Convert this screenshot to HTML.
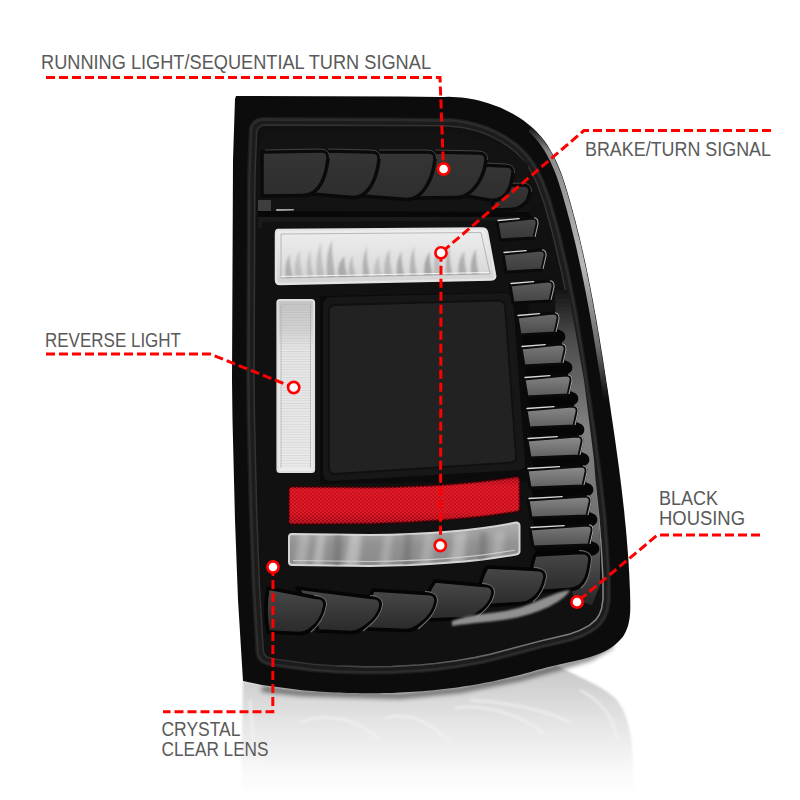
<!DOCTYPE html>
<html><head><meta charset="utf-8">
<style>
html,body{margin:0;padding:0;background:#fff;width:800px;height:800px;overflow:hidden}
svg{display:block}
text{font-family:"Liberation Sans",sans-serif;fill:#5a5a5a}
</style></head><body>
<svg width="800" height="800" viewBox="0 0 800 800">
<defs>
  <linearGradient id="refl" x1="0" y1="0" x2="0" y2="1">
    <stop offset="0" stop-color="#c6c6c6"/>
    <stop offset="0.4" stop-color="#e2e2e2"/>
    <stop offset="0.8" stop-color="#f8f8f8"/>
    <stop offset="1" stop-color="#ffffff"/>
  </linearGradient>
  <linearGradient id="rimg" gradientUnits="userSpaceOnUse" x1="0" y1="130" x2="0" y2="400">
    <stop offset="0" stop-color="#222"/>
    <stop offset="0.08" stop-color="#8a8a8a"/>
    <stop offset="0.5" stop-color="#b8b8b8"/>
    <stop offset="0.8" stop-color="#6a6a6a"/>
    <stop offset="1" stop-color="#0c0c0c"/>
  </linearGradient>
  <linearGradient id="wallg" gradientUnits="userSpaceOnUse" x1="0" y1="290" x2="0" y2="600">
    <stop offset="0" stop-color="#151515"/>
    <stop offset="0.15" stop-color="#4a4a4a"/>
    <stop offset="0.45" stop-color="#828282"/>
    <stop offset="0.75" stop-color="#707070"/>
    <stop offset="1" stop-color="#2a2a2a"/>
  </linearGradient>
  <linearGradient id="clear1" x1="0" y1="0" x2="0" y2="1">
    <stop offset="0" stop-color="#eeeeee"/>
    <stop offset="0.5" stop-color="#e2e2e2"/>
    <stop offset="1" stop-color="#d2d2d2"/>
  </linearGradient>
  <linearGradient id="streak" x1="0" y1="0" x2="0" y2="1">
    <stop offset="0" stop-color="#777" stop-opacity="0"/>
    <stop offset="0.6" stop-color="#6a6a6a" stop-opacity="0.55"/>
    <stop offset="1" stop-color="#888" stop-opacity="0.2"/>
  </linearGradient>
  <linearGradient id="redg" x1="0" y1="0" x2="0" y2="1">
    <stop offset="0" stop-color="#8a0610"/>
    <stop offset="0.2" stop-color="#d8101c"/>
    <stop offset="0.75" stop-color="#d00e1a"/>
    <stop offset="1" stop-color="#8a0610"/>
  </linearGradient>
  <pattern id="hex" width="4" height="3.4" patternUnits="userSpaceOnUse">
    <rect width="4" height="3.4" fill="#7a0010" opacity="0.22"/>
    <circle cx="1" cy="0.85" r="1.1" fill="#ff2a38" opacity="0.6"/>
    <circle cx="3" cy="2.55" r="1.1" fill="#ff2a38" opacity="0.6"/>
  </pattern>
  <linearGradient id="clear2" x1="0" y1="0" x2="0" y2="1">
    <stop offset="0" stop-color="#b0b0b0"/>
    <stop offset="0.5" stop-color="#929292"/>
    <stop offset="1" stop-color="#8a8a8a"/>
  </linearGradient>
  <linearGradient id="revg" x1="0" y1="0" x2="0" y2="1">
    <stop offset="0" stop-color="#c4c4c4"/>
    <stop offset="0.18" stop-color="#d4d4d4"/>
    <stop offset="0.28" stop-color="#e6e6e6"/>
    <stop offset="1" stop-color="#ebebeb"/>
  </linearGradient>
  <linearGradient id="lvg" x1="0" y1="0" x2="0" y2="1">
    <stop offset="0" stop-color="#4a4a4a"/>
    <stop offset="1" stop-color="#3a3a3a"/>
  </linearGradient>
  <linearGradient id="fing" x1="0" y1="0" x2="0" y2="1">
    <stop offset="0" stop-color="#353535"/>
    <stop offset="1" stop-color="#2e2e2e"/>
  </linearGradient>
  <linearGradient id="bfing" x1="0" y1="0" x2="0" y2="1">
    <stop offset="0" stop-color="#484848"/>
    <stop offset="1" stop-color="#2a2a2a"/>
  </linearGradient>
  <filter id="blur1" x="-50%" y="-50%" width="200%" height="200%"><feGaussianBlur stdDeviation="2.5"/></filter>
  <filter id="blur2" x="-50%" y="-50%" width="200%" height="200%"><feGaussianBlur stdDeviation="1.2"/></filter>
  <filter id="blur3" x="-50%" y="-50%" width="200%" height="200%"><feGaussianBlur stdDeviation="0.7"/></filter>
  <pattern id="hlines" width="6" height="2.6" patternUnits="userSpaceOnUse">
    <rect width="6" height="0.9" fill="#9a9a9a" opacity="0.45"/>
  </pattern>
  <linearGradient id="topband" x1="0" y1="0" x2="0" y2="1">
    <stop offset="0" stop-color="#0a0a0a"/>
    <stop offset="1" stop-color="#161616"/>
  </linearGradient>
</defs>
<rect width="800" height="800" fill="#fff"/>

<path d="M243,681 L300,690 L400,693 L460,687 L520,675 L556,665 C575,676 600,684 615,698 C628,712 632,735 633,760 L634,795 L241,795 Z" fill="url(#refl)" filter="url(#blur2)"/>
<path d="M262,689 L300,693 L400,696 L460,690 L520,678 L556,668 L590,658 L612,645" fill="none" stroke="#000" stroke-width="5" opacity="0.55" filter="url(#blur1)"/>
<g filter="url(#blur2)" opacity="0.55">
<path d="M300,722 C330,712 360,720 380,740" fill="none" stroke="#f4f4f4" stroke-width="3"/>
<path d="M385,718 C410,712 430,722 450,742" fill="none" stroke="#f4f4f4" stroke-width="3"/>
<path d="M455,708 C480,704 520,712 545,735" fill="none" stroke="#f4f4f4" stroke-width="3"/>
<path d="M470,700 C500,702 540,708 570,722" fill="none" stroke="#f4f4f4" stroke-width="3"/>
<path d="M250,700 L255,760" fill="none" stroke="#f4f4f4" stroke-width="3"/>
<path d="M580,690 C600,700 612,715 618,740" fill="none" stroke="#f4f4f4" stroke-width="3"/>
</g>
<path d="M236.0,96.0 L400.0,96.5 L440.1,97.1 L444.2,96.9 L448.4,96.8 L452.7,96.9 L457.0,97.2 L461.3,97.6 L465.7,98.1 L470.1,98.8 L474.4,99.6 L478.8,100.6 L483.2,101.7 L487.5,103.0 L491.8,104.4 L496.0,105.9 L500.2,107.6 L504.3,109.4 L508.3,111.4 L512.3,113.5 L516.1,115.7 L519.9,118.1 L523.5,120.6 L527.0,123.2 L530.4,125.9 L533.6,128.8 L536.7,131.8 L539.6,135.0 L542.4,138.2 L544.9,141.6 L547.4,145.1 L549.6,148.7 L551.8,152.4 L553.8,156.2 L555.7,160.0 L557.5,164.0 L559.2,168.0 L560.8,172.0 L562.3,176.1 L563.7,180.3 L565.1,184.5 L566.4,188.7 L567.7,193.0 L568.9,197.2 L570.1,201.5 L571.3,205.7 L572.5,210.0 L573.6,214.3 L574.8,218.5 L575.9,222.8 L576.9,227.1 L578.0,231.4 L579.1,235.6 L580.1,239.9 L581.1,244.2 L582.1,248.5 L583.1,252.8 L584.0,257.0 L585.0,261.3 L585.9,265.6 L586.8,269.9 L587.7,274.2 L588.6,278.5 L589.4,282.8 L590.3,287.0 L591.1,291.3 L591.9,295.6 L592.8,299.9 L593.6,304.2 L594.3,308.5 L595.1,312.8 L595.9,317.1 L596.7,321.4 L597.4,325.7 L598.1,330.0 L598.9,334.3 L599.6,338.6 L600.3,342.9 L601.0,347.2 L601.7,351.5 L602.4,355.8 L603.1,360.2 L603.8,364.5 L604.4,368.8 L605.1,373.1 L605.8,377.4 L606.4,381.7 L607.1,386.0 L607.8,390.3 L608.4,394.6 L609.1,398.9 L609.7,403.3 L610.4,407.6 L611.0,411.9 L611.6,416.2 L612.3,420.5 L612.9,424.8 L613.5,429.1 L614.2,433.5 L614.8,437.8 L615.4,442.1 L616.0,446.4 L616.6,450.8 L617.2,455.1 L617.8,459.4 L618.4,463.7 L619.0,468.1 L619.5,472.4 L620.1,476.8 L620.6,481.1 L621.2,485.4 L621.7,489.8 L622.2,494.1 L622.7,498.5 L623.2,502.8 L623.7,507.2 L624.2,511.6 L624.6,515.9 L625.0,520.3 L625.5,524.7 L625.9,529.1 L626.3,533.4 L626.7,537.8 L627.0,542.2 L627.4,546.6 L627.7,551.0 L628.1,555.4 L628.4,559.8 L628.7,564.3 L628.9,568.7 L629.2,573.1 L629.4,577.5 L629.6,582.0 L629.8,586.4 L630.0,590.9 L630.1,595.3 L630.2,599.8 L630.3,604.2 L630.3,608.6 L630.1,613.0 L629.7,617.2 L629.0,621.4 L628.1,625.4 L626.8,629.2 L625.1,632.9 L623.1,636.4 L620.5,639.6 L617.5,642.6 L614.2,645.4 L610.6,647.9 L606.8,650.2 L602.8,652.2 L598.6,654.0 L594.4,655.6 L590.1,657.0 L585.8,658.3 L581.4,659.4 L576.9,660.5 L572.5,661.5 L568.0,662.4 L563.6,663.4 L559.3,664.4 L555.0,665.4 L550.7,666.5 L546.5,667.6 L542.3,668.7 L538.2,669.8 L534.0,671.0 L529.9,672.2 L525.8,673.3 L521.6,674.4 L517.5,675.5 L513.3,676.6 L509.0,677.6 L504.8,678.6 L500.5,679.6 L496.3,680.5 L492.0,681.4 L487.7,682.3 L483.4,683.1 L479.0,683.9 L474.7,684.7 L470.3,685.4 L466.0,686.1 L461.6,686.8 L457.3,687.4 L452.9,688.0 L448.6,688.5 L444.2,689.1 L439.8,689.6 L435.5,690.0 L431.1,690.4 L426.7,690.8 L422.4,691.2 L418.0,691.5 L413.6,691.8 L409.3,692.1 L404.9,692.3 L400.5,692.5 L396.2,692.7 L391.8,692.9 L387.4,693.0 L383.1,693.1 L378.7,693.2 L374.3,693.2 L369.9,693.2 L365.6,693.2 L361.2,693.2 L356.8,693.1 L352.5,693.0 L348.1,692.9 L343.7,692.7 L339.3,692.6 L335.0,692.4 L330.6,692.2 L326.2,691.9 L321.8,691.7 L317.5,691.4 L313.1,691.1 L308.7,690.7 L304.4,690.4 L300.0,690.0 L262.0,685.0 L243.0,681.0 L238.0,600.0 L235.0,520.0 L232.5,420.0 L232.0,380.0 L233.0,160.0 L235.0,99.0 Z" fill="#0c0c0c"/>
<path d="M531.5,131.0 L534.6,133.9 L537.4,136.9 L540.0,140.1 L542.5,143.4 L544.9,146.8 L547.1,150.2 L549.2,153.8 L551.1,157.5 L553.0,161.3 L554.7,165.2 L556.4,169.1 L558.0,173.1 L559.5,177.1 L560.9,181.3 L562.2,185.4 L563.5,189.6 L564.8,193.8 L566.0,198.0 L567.2,202.3 L568.4,206.5 L569.6,210.8 L570.7,215.0 L571.9,219.3 L573.0,223.6 L574.0,227.8 L575.1,232.1 L576.1,236.3 L577.2,240.6 L578.2,244.9 L579.2,249.1 L580.1,253.4 L581.1,257.7 L582.0,262.0 L582.9,266.2 L583.9,270.5 L584.7,274.8 L585.6,279.1 L586.5,283.3 L587.3,287.6 L588.2,291.9 L589.0,296.2 L589.8,300.5 L590.6,304.8 L591.4,309.1 L592.2,313.4 L592.9,317.6 L593.7,321.9 L594.4,326.2 L595.2,330.5 L595.9,334.8 L596.6,339.1 L597.3,343.4 L598.0,347.7 L598.7,352.0 L599.4,356.3 L600.1,360.6 L600.8,364.9 L601.5,369.2 L602.2,373.5 L602.8,377.8 L603.5,382.2 L604.1,386.5 L604.8,390.8 L605.4,395.1 L606.1,399.4" fill="none" stroke="url(#rimg)" stroke-width="5" stroke-linecap="round"/>
<path d="M262.4,117.0 L257.2,118.1 L253.7,120.1 L250.2,124.2 L248.7,127.9 L246.9,177.0 L246.0,382.1 L246.5,419.7 L248.7,512.9 L251.5,587.6 L255.4,652.8 L256.3,656.9 L257.6,659.4 L261.4,663.4 L266.5,665.6 L274.1,667.2 L312.2,672.2 L336.6,673.9 L364.6,674.8 L392.4,674.5 L420.4,672.9 L436.7,671.4 L456.4,668.8 L476.6,665.3 L492.3,662.1 L542.1,648.8 L570.8,642.1 L582.4,638.1 L592.8,632.7 L597.0,629.7 L601.7,625.2 L606.2,619.0 L609.4,610.7 L611.1,599.5 L611.0,579.1 L609.2,546.2 L606.9,517.6 L602.9,480.9 L596.5,432.4 L585.7,359.6 L577.6,311.3 L569.7,271.5 L560.4,231.6 L551.4,199.5 L544.4,180.4 L539.4,170.0 L535.5,163.3 L530.3,156.0 L522.7,147.8 L516.3,142.3 L506.3,135.3 L496.0,129.7 L487.8,126.1 L476.0,122.2 L464.2,119.6 L452.5,118.1 L444.8,117.8 L436.6,118.0 L400.0,117.5 L262.4,117.0 Z" fill="#1c1c1c"/>
<path d="M262.7,119.5 L258.1,120.4 L255.3,122.0 L252.4,125.5 L251.2,128.4 L249.4,177.0 L248.5,382.1 L249.0,419.7 L251.2,512.9 L254.0,587.4 L257.9,652.4 L258.7,656.0 L259.6,657.9 L262.9,661.3 L267.2,663.2 L274.5,664.7 L312.5,669.7 L336.7,671.4 L364.7,672.3 L392.3,672.0 L420.2,670.4 L436.4,668.9 L456.0,666.4 L476.1,662.9 L491.8,659.6 L541.5,646.4 L541.5,646.4 L570.1,639.7 L581.5,635.8 L591.5,630.6 L595.4,627.8 L599.9,623.6 L604.0,617.8 L607.0,610.1 L608.6,599.4 L608.5,579.2 L606.7,546.4 L604.4,517.8 L600.4,481.2 L594.0,432.7 L583.2,360.0 L575.1,311.8 L567.3,272.1 L558.0,232.2 L549.0,200.3 L542.1,181.4 L537.2,171.2 L533.4,164.6 L528.3,157.5 L521.0,149.6 L514.8,144.2 L505.0,137.4 L494.9,131.9 L486.9,128.5 L475.3,124.7 L463.7,122.1 L452.3,120.6 L444.8,120.3 L436.7,120.5 L436.6,120.5 L399.9,120.0 L262.7,119.5 Z" fill="none" stroke="#2c2c2c" stroke-width="2.5"/>
<path d="M264.6,125.0 L261.6,125.6 L259.0,127.3 L257.3,129.8 L256.6,132.7 L254.9,177.3 L254.0,382.0 L254.5,419.6 L256.7,512.6 L259.5,587.1 L263.3,650.8 L264.5,654.5 L266.1,656.3 L268.2,657.6 L275.7,659.3 L312.8,664.2 L336.8,665.9 L364.6,666.8 L391.9,666.5 L420.0,664.9 L436.0,663.4 L455.0,660.9 L474.9,657.5 L490.3,654.3 L540.0,641.1 L568.9,634.3 L579.8,630.4 L589.1,625.5 L595.7,619.9 L599.2,614.9 L601.6,608.6 L603.0,599.0 L603.0,579.1 L601.2,546.7 L598.9,518.2 L595.0,481.7 L588.6,433.4 L577.7,360.8 L569.7,312.9 L561.9,273.4 L552.7,233.8 L543.9,202.3 L536.9,183.1 L532.5,174.1 L528.9,168.0 L523.7,160.7 L516.8,153.3 L511.1,148.4 L501.7,141.9 L492.8,137.1 L484.6,133.5 L473.5,129.9 L462.4,127.4 L445.0,125.8 L264.6,125.0 Z" fill="#111" stroke="#333" stroke-width="1.5"/>
<defs><linearGradient id="liph" gradientUnits="userSpaceOnUse" x1="300" y1="0" x2="620" y2="0"><stop offset="0" stop-color="#333"/><stop offset="0.6" stop-color="#6a6a6a"/><stop offset="1" stop-color="#8a8a8a"/></linearGradient></defs>
<path d="M336.8,665.9 L364.6,666.8 L391.9,666.5 L420.0,664.9 L436.0,663.4 L455.0,660.9 L474.9,657.5 L490.3,654.3 L540.0,641.1 L568.9,634.3 L579.8,630.4 L589.1,625.5 L595.7,619.9 L599.2,614.9 L601.6,608.6 L603.0,599.0 L603.0,579.1 L601.2,546.7 L598.9,518.2 L595.0,481.7" fill="none" stroke="url(#liph)" stroke-width="1.4"/>
<path d="M258,150 Q258,132 276,132 L440,132 C480,134 510,145 528,165 L530,215 L258,215 Z" fill="#131313"/>
<path d="M555,290 L568,290 L584,380 L594,460 L600,540 L600,585 L592,605 L575,600 L560,560 Z" fill="url(#wallg)" filter="url(#blur3)"/>
<path d="M490,186 L522,185 Q530.5,184.5 530,192 C528,198.8 528,202 521,206.5 Q517,209.5 511,209.5 L494,210 Z" fill="url(#fing)" stroke="#0a0a0a" stroke-width="3.5" stroke-linejoin="round"/>
<path d="M493,184 L522,183 Q532,183 531.5,192" stroke="#444" stroke-width="1" fill="none"/>
<path d="M483,165 L505,166 Q513.5,165.5 513,173 C511,185.8 509,193 502,197.5 Q498,200.5 492,200.5 L466,196 Z" fill="url(#fing)" stroke="#0a0a0a" stroke-width="3.5" stroke-linejoin="round"/>
<path d="M486,163 L505,164 Q515,164 514.5,173" stroke="#444" stroke-width="1" fill="none"/>
<path d="M432,152 L478,153 Q486.5,152.5 486,160 C484,178.8 474,190 467,194.5 Q463,197.5 457,197.5 L416,198 Z" fill="url(#fing)" stroke="#0a0a0a" stroke-width="3.5" stroke-linejoin="round"/>
<path d="M435,150 L478,151 Q488,151 487.5,160" stroke="#444" stroke-width="1" fill="none"/>
<path d="M376,152 L427,152 Q435.5,151.5 435,159 C433,179.6 424,192 417,196.5 Q413,199.5 407,199.5 L362,196 Z" fill="url(#fing)" stroke="#0a0a0a" stroke-width="3.5" stroke-linejoin="round"/>
<path d="M379,150 L427,150 Q437,150 436.5,159" stroke="#444" stroke-width="1" fill="none"/>
<path d="M325,151 L371,152 Q379.5,151.5 379,159 C377,178.4 370,190 363,194.5 Q359,197.5 353,197.5 L312,194 Z" fill="url(#fing)" stroke="#0a0a0a" stroke-width="3.5" stroke-linejoin="round"/>
<path d="M328,149 L371,150 Q381,150 380.5,159" stroke="#444" stroke-width="1" fill="none"/>
<path d="M262,152 L320,151 Q328.5,150.5 328,158 C326,176.8 320,188 313,192.5 Q309,195.5 303,195.5 L262,196 Z" fill="url(#fing)" stroke="#0a0a0a" stroke-width="3.5" stroke-linejoin="round"/>
<path d="M265,150 L320,149 Q330,149 329.5,158" stroke="#444" stroke-width="1" fill="none"/>
<path d="M258,211 L530,212 L530,217 L258,217 Z" fill="#080808"/>
<path d="M258,217 L530,217 L530,228 L258,228 Z" fill="#1a1a1a"/>
<rect x="258" y="200" width="13" height="11" fill="#4a4a4a" opacity="0.8"/>
<path d="M277,210 L293,209.5" stroke="#c8c8c8" stroke-width="2" stroke-linecap="round" opacity="0.8" filter="url(#blur3)"/>
<path d="M262,222 L528,220 L536,568 L262,576 Z" fill="#111"/>
<path d="M278,230 L482,228.5 Q486,228.5 487,232 L495,275 Q496,279 491,279.5 L280,284 Q276,284 276,280 L276,234 Q276,230 278,230 Z" fill="url(#clear1)" stroke="#e4e4e4" stroke-width="2.5"/>
<path d="M281,234 L481,232.5 L490,274 L281,278 Z" fill="none" stroke="#9a9a9a" stroke-width="0.8" opacity="0.8"/>
<clipPath id="tbclip"><path d="M281,234 L481,232.5 L490,274 L281,278 Z"/></clipPath>
<g clip-path="url(#tbclip)"><g filter="url(#blur2)">
<path d="M286.0,279 C284.0,266.6 287.0,259.2 290.0,254.3 C289.0,264.2 292.0,271.6 293.0,279 Z" fill="#707070" opacity="0.41"/>
<path d="M295.4,279 C293.4,264.7 296.4,256.1 300.0,250.4 C299.0,261.9 302.0,270.4 303.0,279 Z" fill="#707070" opacity="0.26"/>
<path d="M307.5,279 C305.5,264.1 308.5,255.2 310.6,249.2 C309.6,261.1 312.6,270.1 313.6,279 Z" fill="#707070" opacity="0.27"/>
<path d="M317.0,279 C315.0,260.6 318.0,249.5 321.3,242.1 C320.3,256.9 323.3,267.9 324.3,279 Z" fill="#707070" opacity="0.28"/>
<path d="M327.4,279 C325.4,259.5 328.4,247.8 332.2,239.9 C331.2,255.6 334.2,267.3 335.2,279 Z" fill="#707070" opacity="0.39"/>
<path d="M338.7,279 C336.7,267.6 339.7,260.7 344.7,256.2 C343.7,265.3 346.7,272.1 347.7,279 Z" fill="#707070" opacity="0.46"/>
<path d="M349.5,279 C347.5,266.9 350.5,259.7 352.9,254.9 C351.9,264.5 354.9,271.8 355.9,279 Z" fill="#707070" opacity="0.33"/>
<path d="M363.4,279 C361.4,262.8 364.4,253.0 366.9,246.5 C365.9,259.5 368.9,269.3 369.9,279 Z" fill="#707070" opacity="0.41"/>
<path d="M374.6,279 C372.6,267.4 375.6,260.5 379.3,255.9 C378.3,265.1 381.3,272.1 382.3,279 Z" fill="#707070" opacity="0.26"/>
<path d="M384.8,279 C382.8,264.2 385.8,255.2 389.9,249.3 C388.9,261.2 391.9,270.1 392.9,279 Z" fill="#707070" opacity="0.33"/>
<path d="M397.4,279 C395.4,265.3 398.4,257.1 401.7,251.6 C400.7,262.6 403.7,270.8 404.7,279 Z" fill="#707070" opacity="0.45"/>
<path d="M410.6,279 C408.6,262.8 411.6,253.1 414.3,246.7 C413.3,259.6 416.3,269.3 417.3,279 Z" fill="#707070" opacity="0.38"/>
<path d="M424.8,279 C422.8,265.4 425.8,257.3 430.0,251.8 C429.0,262.7 432.0,270.8 433.0,279 Z" fill="#707070" opacity="0.50"/>
<path d="M434.5,279 C432.5,261.2 435.5,250.5 438.8,243.4 C437.8,257.6 440.8,268.3 441.8,279 Z" fill="#707070" opacity="0.29"/>
<path d="M446.4,279 C444.4,262.0 447.4,251.8 449.6,245.0 C448.6,258.6 451.6,268.8 452.6,279 Z" fill="#707070" opacity="0.44"/>
<path d="M458.9,279 C456.9,265.2 459.9,256.9 464.5,251.4 C463.5,262.4 466.5,270.7 467.5,279 Z" fill="#707070" opacity="0.42"/>
<path d="M471.5,279 C469.5,263.9 472.5,254.8 476.2,248.8 C475.2,260.9 478.2,269.9 479.2,279 Z" fill="#707070" opacity="0.46"/>
</g></g>
<path d="M281,276.5 L489,272.5" stroke="#f4f4f4" stroke-width="1.2"/>
<rect x="277.5" y="300" width="36.5" height="172" rx="2.5" fill="url(#revg)" stroke="#e0e0e0" stroke-width="2.2"/>
<rect x="281" y="304" width="29.5" height="164" fill="url(#hlines)" opacity="0.5"/>
<path d="M281,305 L281,468 M310.5,305 L310.5,468" stroke="#a0a0a0" stroke-width="0.8" opacity="0.7"/>
<path d="M320,296 L528,292 L532,482 L320,484 Z" fill="#0b0b0b"/>
<path d="M323,306 Q323,297 332,297 L505,293 Q512,293 513,300 L525,462 Q526,470 518,470 L332,481 Q323,481 323,472 Z" fill="#171717"/>
<path d="M335,305 L498,300.5 Q504,300.5 505,306 L516,456 Q517,462 511,462.5 L335,474 Q329,474 329,468 L329,311 Q329,305 335,305 Z" fill="#222" stroke="#101010" stroke-width="1.8"/>
<path d="M292,487 L370,487.5 Q460,486.5 516,477 Q519.5,477 519.5,480.5 L519.5,508 Q519.5,511 516,511.5 Q460,521 370,523.5 L292,524 Q289,524 289,521 L289,490 Q289,487 292,487 Z" fill="url(#redg)" stroke="#3a0004" stroke-width="2"/>
<path d="M292,487 L370,487.5 Q460,486.5 516,477 Q519.5,477 519.5,480.5 L519.5,508 Q519.5,511 516,511.5 Q460,521 370,523.5 L292,524 Q289,524 289,521 L289,490 Q289,487 292,487 Z" fill="url(#hex)"/>
<path d="M292,534 L370,535 Q460,534 516,522.5 Q519.5,522.5 519.5,526 L519.5,551 Q519.5,554 516,554.5 Q460,565 370,566 L292,565 Q289,565 289,562 L289,537 Q289,534 292,534 Z" fill="url(#clear2)" stroke="#d4d4d4" stroke-width="2"/>
<clipPath id="cbclip"><path d="M292,534 L370,535 Q460,534 516,522.5 Q519.5,522.5 519.5,526 L519.5,551 Q519.5,554 516,554.5 Q460,565 370,566 L292,565 Q289,565 289,562 L289,537 Q289,534 292,534 Z"/></clipPath>
<g clip-path="url(#cbclip)"><g filter="url(#blur1)">
<path d="M300,532 L310,532 L306,568 L294,568 Z" fill="#e0e0e0" opacity="0.35"/>
<path d="M318,532 L326,532 L322,568 L312,568 Z" fill="#e0e0e0" opacity="0.45"/>
<path d="M350,532 L362,532 L358,568 L344,568 Z" fill="#e0e0e0" opacity="0.5"/>
<path d="M385,532 L393,532 L389,568 L379,568 Z" fill="#e0e0e0" opacity="0.3"/>
<path d="M425,532 L435,532 L431,568 L419,568 Z" fill="#e0e0e0" opacity="0.3"/>
<path d="M455,532 L467,532 L463,568 L449,568 Z" fill="#e0e0e0" opacity="0.4"/>
<path d="M495,532 L505,532 L501,568 L489,568 Z" fill="#e0e0e0" opacity="0.3"/>
<path d="M335,532 L342,532 L340,568 L333,568 Z" fill="#4a4a4a" opacity="0.3"/>
<path d="M405,532 L412,532 L410,568 L403,568 Z" fill="#4a4a4a" opacity="0.3"/>
<path d="M480,532 L487,532 L485,568 L478,568 Z" fill="#4a4a4a" opacity="0.3"/>
</g></g>
<path d="M293,560.5 L370,561.5 Q460,560.5 515,550" fill="none" stroke="#d8d8d8" stroke-width="1.2" opacity="0.8"/>
<linearGradient id="lv0" x1="0" y1="0" x2="0" y2="1"><stop offset="0" stop-color="#4a4a4a"/><stop offset="1" stop-color="#383838"/></linearGradient>
<path d="M497,222 L532,218 Q538,218 537,224 L534,238 L500,240 Z" fill="url(#lv0)" stroke="#0a0a0a" stroke-width="3" stroke-linejoin="round"/>
<path d="M498,220.5 L519.0,218.6" fill="none" stroke="#dadada" stroke-width="1.4" stroke-linecap="round"/>
<path d="M534,217.7 Q538.5,218 538,224 L535,237" fill="none" stroke="#a8a8a8" stroke-width="1.1"/>
<linearGradient id="lv1" x1="0" y1="0" x2="0" y2="1"><stop offset="0" stop-color="#525252"/><stop offset="1" stop-color="#3c3c3c"/></linearGradient>
<path d="M503,254 L540,250 Q546,250 545,256 L542,270 L506,272 Z" fill="url(#lv1)" stroke="#0a0a0a" stroke-width="3" stroke-linejoin="round"/>
<path d="M504,252.5 L526.1,250.6" fill="none" stroke="#dadada" stroke-width="1.4" stroke-linecap="round"/>
<path d="M542,249.7 Q546.5,250 546,256 L543,269" fill="none" stroke="#a8a8a8" stroke-width="1.1"/>
<linearGradient id="lv2" x1="0" y1="0" x2="0" y2="1"><stop offset="0" stop-color="#5e5e5e"/><stop offset="1" stop-color="#444"/></linearGradient>
<path d="M510,285 L548,281 Q554,281 553,287 L550,301 L513,303 Z" fill="url(#lv2)" stroke="#0a0a0a" stroke-width="3" stroke-linejoin="round"/>
<path d="M511,283.5 L533.65,281.6" fill="none" stroke="#dadada" stroke-width="1.4" stroke-linecap="round"/>
<path d="M550,280.7 Q554.5,281 554,287 L551,300" fill="none" stroke="#a8a8a8" stroke-width="1.1"/>
<linearGradient id="lv3" x1="0" y1="0" x2="0" y2="1"><stop offset="0" stop-color="#6c6c6c"/><stop offset="1" stop-color="#4a4a4a"/></linearGradient>
<path d="M521,330 L556,329 Q567,331 565,339 Q563,344 554,344 L523,345 Z" fill="#060606"/>
<path d="M517,317 L553,313 Q559,313 558,319 L555,333 L520,335 Z" fill="url(#lv3)" stroke="#0a0a0a" stroke-width="3" stroke-linejoin="round"/>
<path d="M518,315.5 L539.55,313.6" fill="none" stroke="#dadada" stroke-width="1.4" stroke-linecap="round"/>
<path d="M555,312.7 Q559.5,313 559,319 L556,332" fill="none" stroke="#a8a8a8" stroke-width="1.1"/>
<linearGradient id="lv4" x1="0" y1="0" x2="0" y2="1"><stop offset="0" stop-color="#7a7a7a"/><stop offset="1" stop-color="#555"/></linearGradient>
<path d="M525,361 L563,360 Q574,362 572,370 Q570,375 561,375 L527,376 Z" fill="#060606"/>
<path d="M521,348 L560,344 Q566,344 565,350 L562,364 L524,366 Z" fill="url(#lv4)" stroke="#0a0a0a" stroke-width="3" stroke-linejoin="round"/>
<path d="M522,346.5 L545.2,344.6" fill="none" stroke="#dadada" stroke-width="1.4" stroke-linecap="round"/>
<path d="M562,343.7 Q566.5,344 566,350 L563,363" fill="none" stroke="#a8a8a8" stroke-width="1.1"/>
<linearGradient id="lv5" x1="0" y1="0" x2="0" y2="1"><stop offset="0" stop-color="#848484"/><stop offset="1" stop-color="#5a5a5a"/></linearGradient>
<path d="M528,392 L569,391 Q580,393 578,401 Q576,406 567,406 L530,407 Z" fill="#060606"/>
<path d="M524,379 L566,375 Q572,375 571,381 L568,395 L527,397 Z" fill="url(#lv5)" stroke="#0a0a0a" stroke-width="3" stroke-linejoin="round"/>
<path d="M525,377.5 L549.85,375.6" fill="none" stroke="#dadada" stroke-width="1.4" stroke-linecap="round"/>
<path d="M568,374.7 Q572.5,375 572,381 L569,394" fill="none" stroke="#a8a8a8" stroke-width="1.1"/>
<linearGradient id="lv6" x1="0" y1="0" x2="0" y2="1"><stop offset="0" stop-color="#8a8a8a"/><stop offset="1" stop-color="#5e5e5e"/></linearGradient>
<path d="M530,423 L575,422 Q586,424 584,432 Q582,437 573,437 L532,438 Z" fill="#060606"/>
<path d="M526,410 L572,406 Q578,406 577,412 L574,426 L529,428 Z" fill="url(#lv6)" stroke="#0a0a0a" stroke-width="3" stroke-linejoin="round"/>
<path d="M527,408.5 L554.05,406.6" fill="none" stroke="#dadada" stroke-width="1.4" stroke-linecap="round"/>
<path d="M574,405.7 Q578.5,406 578,412 L575,425" fill="none" stroke="#a8a8a8" stroke-width="1.1"/>
<linearGradient id="lv7" x1="0" y1="0" x2="0" y2="1"><stop offset="0" stop-color="#8e8e8e"/><stop offset="1" stop-color="#606060"/></linearGradient>
<path d="M531,453 L580,452 Q591,454 589,462 Q587,467 578,467 L533,468 Z" fill="#060606"/>
<path d="M527,440 L577,436 Q583,436 582,442 L579,456 L530,458 Z" fill="url(#lv7)" stroke="#0a0a0a" stroke-width="3" stroke-linejoin="round"/>
<path d="M528,438.5 L557.25,436.6" fill="none" stroke="#dadada" stroke-width="1.4" stroke-linecap="round"/>
<path d="M579,435.7 Q583.5,436 583,442 L580,455" fill="none" stroke="#a8a8a8" stroke-width="1.1"/>
<linearGradient id="lv8" x1="0" y1="0" x2="0" y2="1"><stop offset="0" stop-color="#8e8e8e"/><stop offset="1" stop-color="#606060"/></linearGradient>
<path d="M531,483 L584,482 Q595,484 593,492 Q591,497 582,497 L533,498 Z" fill="#060606"/>
<path d="M527,470 L581,466 Q587,466 586,472 L583,486 L530,488 Z" fill="url(#lv8)" stroke="#0a0a0a" stroke-width="3" stroke-linejoin="round"/>
<path d="M528,468.5 L559.45,466.6" fill="none" stroke="#dadada" stroke-width="1.4" stroke-linecap="round"/>
<path d="M583,465.7 Q587.5,466 587,472 L584,485" fill="none" stroke="#a8a8a8" stroke-width="1.1"/>
<linearGradient id="lv9" x1="0" y1="0" x2="0" y2="1"><stop offset="0" stop-color="#888"/><stop offset="1" stop-color="#5a5a5a"/></linearGradient>
<path d="M532,513 L588,512 Q599,514 597,522 Q595,527 586,527 L534,528 Z" fill="#060606"/>
<path d="M528,500 L585,496 Q591,496 590,502 L587,516 L531,518 Z" fill="url(#lv9)" stroke="#0a0a0a" stroke-width="3" stroke-linejoin="round"/>
<path d="M529,498.5 L562.1,496.6" fill="none" stroke="#dadada" stroke-width="1.4" stroke-linecap="round"/>
<path d="M587,495.7 Q591.5,496 591,502 L588,515" fill="none" stroke="#a8a8a8" stroke-width="1.1"/>
<linearGradient id="lv10" x1="0" y1="0" x2="0" y2="1"><stop offset="0" stop-color="#7a7a7a"/><stop offset="1" stop-color="#505050"/></linearGradient>
<path d="M534,542 L590,541 Q601,543 599,551 Q597,556 588,556 L536,557 Z" fill="#060606"/>
<path d="M530,529 L587,525 Q593,525 592,531 L589,545 L533,547 Z" fill="url(#lv10)" stroke="#0a0a0a" stroke-width="3" stroke-linejoin="round"/>
<path d="M531,527.5 L564.1,525.6" fill="none" stroke="#dadada" stroke-width="1.4" stroke-linecap="round"/>
<path d="M589,524.7 Q593.5,525 593,531 L590,544" fill="none" stroke="#a8a8a8" stroke-width="1.1"/>
<path d="M535,555 L581,552.5 Q590.5,552.5 590,560 C588,574.0 586,582 579,586.5 Q575,589.5 569,589.5 L532,592 Q528,573.5 535,555 Z" fill="url(#bfing)" stroke="#050505" stroke-width="3.5" stroke-linejoin="round"/>
<path d="M579,550.5 Q592,551 591.5,560 C589.5,574.0 588,582 581,588" fill="none" stroke="#707070" stroke-width="1.1"/>
<path d="M487,567 L536,569.5 Q545.5,569.5 545,577 C543,589.2 538,596 531,600.5 Q527,603.5 521,603.5 L480,606 Q476,586.5 487,567 Z" fill="url(#bfing)" stroke="#050505" stroke-width="3.5" stroke-linejoin="round"/>
<path d="M534,567.5 Q547,568 546.5,577 C544.5,589.2 540,596 533,602" fill="none" stroke="#707070" stroke-width="1.1"/>
<path d="M435,581 L484,585.5 Q493.5,585.5 493,593 C491,604.6 482,611 475,615.5 Q471,618.5 465,618.5 L425,620 Q421,600.5 435,581 Z" fill="url(#bfing)" stroke="#050505" stroke-width="3.5" stroke-linejoin="round"/>
<path d="M482,583.5 Q495,584 494.5,593 C492.5,604.6 484,611 477,617" fill="none" stroke="#707070" stroke-width="1.1"/>
<path d="M373,590 L427,593.5 Q436.5,593.5 436,601 C434,615.0 423,623 416,627.5 Q412,630.5 406,630.5 L368,629 Q364,609.5 373,590 Z" fill="url(#bfing)" stroke="#050505" stroke-width="3.5" stroke-linejoin="round"/>
<path d="M425,591.5 Q438,592 437.5,601 C435.5,615.0 425,623 418,629" fill="none" stroke="#707070" stroke-width="1.1"/>
<path d="M297,588 L372,597.5 Q381.5,597.5 381,605 C379,617.8 368,625 361,629.5 Q357,632.5 351,632.5 L318,631 Q314,609.5 297,588 Z" fill="url(#bfing)" stroke="#050505" stroke-width="3.5" stroke-linejoin="round"/>
<path d="M370,595.5 Q383,596 382.5,605 C380.5,617.8 370,625 363,631" fill="none" stroke="#707070" stroke-width="1.1"/>
<path d="M268,588 L316,597.5 Q325.5,597.5 325,605 C323,618.4 316,626 309,630.5 Q305,633.5 299,633.5 L268,632 Q264,610.0 268,588 Z" fill="url(#bfing)" stroke="#050505" stroke-width="3.5" stroke-linejoin="round"/>
<path d="M314,595.5 Q327,596 326.5,605 C324.5,618.4 318,626 311,632" fill="none" stroke="#707070" stroke-width="1.1"/>
<path d="M452,621 C475,612 500,614 522,607 C542,600 555,592 570,590 C566,598 550,608 530,614 C505,622 478,622 452,626 Z" fill="#b0b0b0" opacity="0.8" filter="url(#blur2)"/>
<text x="41" y="68.5" font-size="19.5" textLength="390" lengthAdjust="spacingAndGlyphs">RUNNING LIGHT/SEQUENTIAL TURN SIGNAL</text>
<text x="585" y="155.5" font-size="19.5" textLength="186" lengthAdjust="spacingAndGlyphs">BRAKE/TURN SIGNAL</text>
<text x="45" y="346.5" font-size="19.5" textLength="136" lengthAdjust="spacingAndGlyphs">REVERSE LIGHT</text>
<text x="659" y="505" font-size="19.5" textLength="59" lengthAdjust="spacingAndGlyphs">BLACK</text>
<text x="659" y="524.5" font-size="19.5" textLength="86" lengthAdjust="spacingAndGlyphs">HOUSING</text>
<text x="161.5" y="736" font-size="19.5" textLength="79" lengthAdjust="spacingAndGlyphs">CRYSTAL</text>
<text x="161.5" y="756" font-size="19.5" textLength="107" lengthAdjust="spacingAndGlyphs">CLEAR LENS</text>
<path d="M46,77.5 L440,77.5 L443.5,169" fill="none" stroke="#ff0000" stroke-width="3" stroke-dasharray="9,4"/>
<path d="M771,130.5 L584,130.5 L441,252.8" fill="none" stroke="#ff0000" stroke-width="3" stroke-dasharray="9,4"/>
<path d="M441,252.8 L440.5,545.5" fill="none" stroke="#ff0000" stroke-width="3" stroke-dasharray="9,4"/>
<path d="M46,354 L210,354 L293.7,387.5" fill="none" stroke="#ff0000" stroke-width="3" stroke-dasharray="9,4"/>
<path d="M760,535 L657.5,535 L577,602" fill="none" stroke="#ff0000" stroke-width="3" stroke-dasharray="9,4"/>
<path d="M273,567 L272.8,711.7 L163,711.7" fill="none" stroke="#ff0000" stroke-width="3" stroke-dasharray="9,4"/>
<circle cx="443.6" cy="169" r="5.6" fill="#fff" stroke="#ff0000" stroke-width="2.6"/>
<circle cx="441" cy="252.8" r="5.6" fill="#fff" stroke="#ff0000" stroke-width="2.6"/>
<circle cx="293.7" cy="387.5" r="5.6" fill="#fff" stroke="#ff0000" stroke-width="2.6"/>
<circle cx="440.3" cy="545.5" r="5.6" fill="#fff" stroke="#ff0000" stroke-width="2.6"/>
<circle cx="577" cy="602" r="5.6" fill="#fff" stroke="#ff0000" stroke-width="2.6"/>
<circle cx="273" cy="567" r="5.6" fill="#fff" stroke="#ff0000" stroke-width="2.6"/>
</svg></body></html>
